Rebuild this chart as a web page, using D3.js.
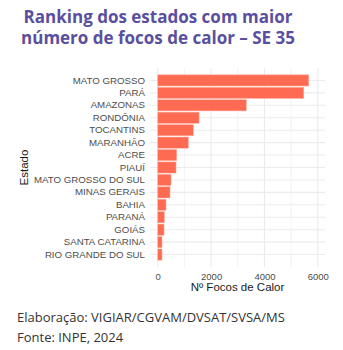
<!DOCTYPE html>
<html>
<head>
<meta charset="utf-8">
<script src="https://cdn.jsdelivr.net/npm/d3@7"></script>
<style>
  html, body { margin: 0; padding: 0; background: #fff; }
  svg { display: block; }
</style>
</head>
<body>
<svg id="chart" width="343" height="350"></svg>
<script>
// Estados ordenados por número de focos de calor (SE 35)
const estados = [
  "MATO GROSSO", "PARÁ", "AMAZONAS", "RONDÔNIA", "TOCANTINS", "MARANHÃO",
  "ACRE", "PIAUÍ", "MATO GROSSO DO SUL", "MINAS GERAIS", "BAHIA", "PARANÁ",
  "GOIÁS", "SANTA CATARINA", "RIO GRANDE DO SUL"
];
const focos = [5662, 5474, 3322, 1549, 1336, 1149, 712, 686, 499, 461, 311, 249, 236, 161, 161];
const xTicks = [0, 2000, 4000, 6000];
const xMinor = [1000, 3000, 5000];

const svg = d3.select("#chart");
const panel = { left: 150, right: 325, top: 68, bottom: 267 };

const x = d3.scaleLinear().domain([-290, 6270]).range([panel.left, panel.right]);
const y = d3.scaleBand().domain(estados)
  .range([panel.top, panel.bottom]).paddingInner(0.1).paddingOuter(0.55);

// Título (duas linhas)
const titleLines = ["Ranking dos estados com maior", "número de focos de calor – SE 35"];
svg.append("g").selectAll("text").data(titleLines).join("text")
  .attr("x", 158).attr("y", (d, i) => 23 + i * 21)
  .attr("text-anchor", "middle")
  .attr("font-family", "Open Sans, Lato, sans-serif")
  .attr("font-weight", 700).attr("font-size", 17)
  .attr("fill", "#5a4f9e")
  .text(d => d);

// Grade
const grid = svg.append("g");
grid.selectAll("line.minor").data(xMinor).join("line")
  .attr("x1", d => x(d)).attr("x2", d => x(d))
  .attr("y1", panel.top).attr("y2", panel.bottom)
  .attr("stroke", "#ebebeb").attr("stroke-width", 0.6);
grid.selectAll("line.major").data(xTicks).join("line")
  .attr("x1", d => x(d)).attr("x2", d => x(d))
  .attr("y1", panel.top).attr("y2", panel.bottom)
  .attr("stroke", "#ebebeb").attr("stroke-width", 1.1);
grid.selectAll("line.hz").data(estados).join("line")
  .attr("x1", panel.left).attr("x2", panel.right)
  .attr("y1", d => y(d) + y.bandwidth() / 2).attr("y2", d => y(d) + y.bandwidth() / 2)
  .attr("stroke", "#ebebeb").attr("stroke-width", 1.1);

// Barras
svg.append("g").selectAll("rect").data(estados).join("rect")
  .attr("x", x(0))
  .attr("y", d => y(d))
  .attr("width", (d, i) => x(focos[i]) - x(0))
  .attr("height", y.bandwidth())
  .attr("fill", "#ff6b52")
  .attr("stroke", "#ffb3a6").attr("stroke-width", 0.5);

// Eixo Y
const yAxis = svg.append("g").attr("transform", `translate(${panel.left - 5},0)`)
  .call(d3.axisLeft(y).tickSize(0).tickPadding(0));
yAxis.select(".domain").remove();
yAxis.selectAll("text")
  .attr("font-family", "Liberation Sans, Arial, sans-serif")
  .attr("font-size", 9.7).attr("fill", "#4d4d4d");

// Eixo X
const xAxis = svg.append("g").attr("transform", `translate(0,${panel.bottom})`)
  .call(d3.axisBottom(x).tickValues(xTicks).tickSize(0).tickPadding(6).tickFormat(d3.format("d")));
xAxis.select(".domain").remove();
xAxis.selectAll("text")
  .attr("font-family", "Liberation Sans, Arial, sans-serif")
  .attr("font-size", 9.5).attr("fill", "#4d4d4d");

// Títulos dos eixos
svg.append("text")
  .attr("x", (panel.left + panel.right) / 2).attr("y", 291)
  .attr("text-anchor", "middle")
  .attr("font-family", "Liberation Sans, Arial, sans-serif")
  .attr("font-size", 11.5).attr("fill", "#1a1a1a")
  .text("Nº Focos de Calor");
svg.append("text")
  .attr("transform", `translate(28,${(panel.top + panel.bottom) / 2}) rotate(-90)`)
  .attr("text-anchor", "middle")
  .attr("font-family", "Liberation Sans, Arial, sans-serif")
  .attr("font-size", 11.5).attr("fill", "#1a1a1a")
  .text("Estado");

// Rodapé
const foot = svg.append("g")
  .attr("font-family", "Open Sans, Lato, sans-serif")
  .attr("font-size", 13).attr("fill", "#333");
foot.append("text").attr("x", 17).attr("y", 322).text("Elaboração: VIGIAR/CGVAM/DVSAT/SVSA/MS");
foot.append("text").attr("x", 17).attr("y", 342).text("Fonte: INPE, 2024");
</script>
</body>
</html>
